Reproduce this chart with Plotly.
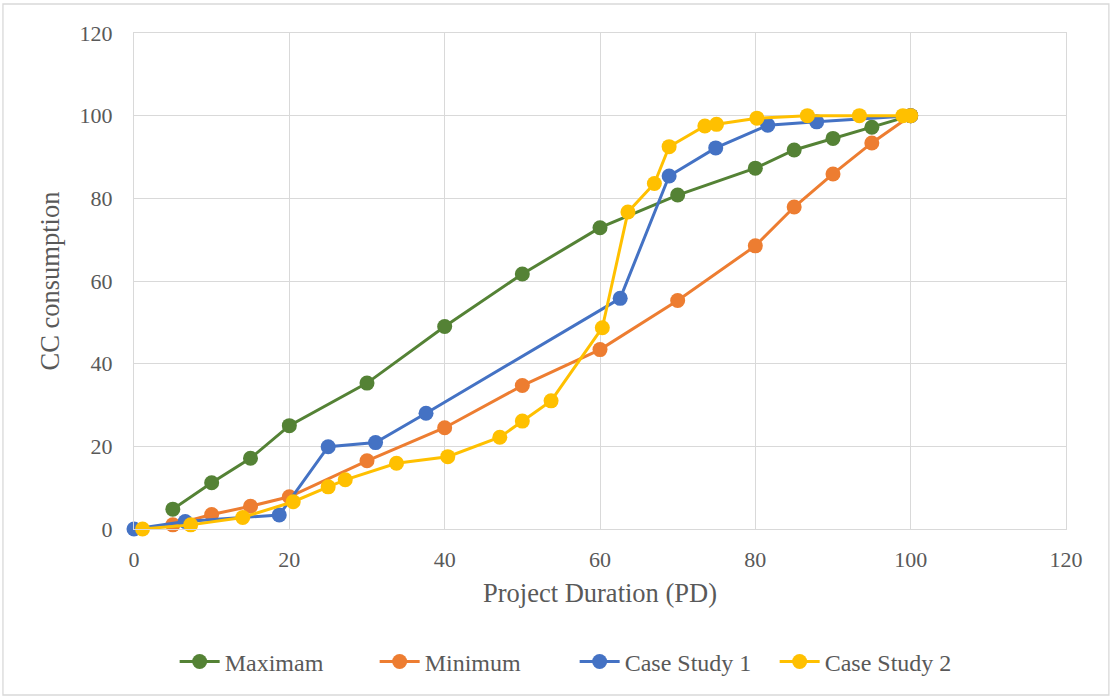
import plotly.graph_objects as go

max_x = [5, 10, 15, 20, 30, 40, 50, 60, 70, 80, 85, 90, 95, 100]
max_y = [4.8, 11.2, 17.1, 25.0, 35.3, 49.0, 61.7, 72.9, 80.8, 87.3, 91.7, 94.5, 97.2, 100]

min_x = [5, 10, 15, 20, 30, 40, 50, 60, 70, 80, 85, 90, 95, 100]
min_y = [1.0, 3.5, 5.5, 7.8, 16.5, 24.5, 34.7, 43.4, 55.3, 68.5, 77.9, 85.9, 93.4, 100]

cs1_x = [0, 6.6, 18.7, 25.0, 31.1, 37.6, 62.6, 68.9, 74.9, 81.6, 87.9, 100]
cs1_y = [0, 1.8, 3.4, 19.9, 20.9, 28.0, 55.8, 85.4, 92.2, 97.7, 98.5, 100]

cs2_x = [1.1, 7.3, 14.0, 20.5, 25.0, 27.2, 33.8, 40.4, 47.1, 50.0, 53.7, 60.3, 63.6, 67.0, 68.9, 73.5, 75.0, 80.2, 86.7, 93.4, 99.0, 100]
cs2_y = [0, 1.0, 2.8, 6.6, 10.2, 11.9, 15.9, 17.5, 22.2, 26.1, 31.0, 48.7, 76.7, 83.6, 92.5, 97.5, 97.9, 99.4, 100, 100, 100, 100]

tick_vals = [0, 20, 40, 60, 80, 100, 120]

series = [
    ("Maximam", max_x, max_y, "#548235"),
    ("Minimum", min_x, min_y, "#ED7D31"),
    ("Case Study 1", cs1_x, cs1_y, "#4472C4"),
    ("Case Study 2", cs2_x, cs2_y, "#FFC000"),
]

fig = go.Figure()
for name, xs, ys, col in series:
    fig.add_trace(go.Scatter(
        x=xs, y=ys, name=name, mode="lines+markers",
        line=dict(color=col, width=3),
        marker=dict(color=col, size=15),
        cliponaxis=False,
    ))

font_family = "Liberation Serif"
grey = "#595959"
fig.update_layout(
    width=1112, height=699,
    margin=dict(l=134, r=46, t=33, b=170),
    paper_bgcolor="white", plot_bgcolor="white",
    font=dict(family=font_family, size=22, color=grey),
    showlegend=True,
    legend=dict(orientation="h", x=0.4728, xanchor="center", y=-0.268, yanchor="middle",
                font=dict(size=24, color=grey), traceorder="normal",
                entrywidth=145, entrywidthmode="pixels", itemwidth=40),
    xaxis=dict(range=[0, 120], tickvals=tick_vals,
               showgrid=True, gridcolor="#D9D9D9", gridwidth=1.3,
               zeroline=False, showline=True, linecolor="#D9D9D9", linewidth=1.3, mirror=True,
               ticks="", ticklen=0, ticklabelstandoff=10,
               title=dict(text="Project Duration (PD)", font=dict(size=26.5, color=grey), standoff=12),
               tickfont=dict(size=22, color=grey)),
    yaxis=dict(range=[0, 120], tickvals=tick_vals,
               showgrid=True, gridcolor="#D9D9D9", gridwidth=1.3,
               zeroline=False, showline=True, linecolor="#D9D9D9", linewidth=1.3, mirror=True,
               ticks="", ticklen=0, ticklabelstandoff=16,
               title=dict(text="CC consumption", font=dict(size=26.5, color=grey), standoff=12),
               tickfont=dict(size=22, color=grey)),
    shapes=[dict(type="rect", xref="paper", yref="paper",
                 x0=-0.1406, x1=1.046, y0=-0.3347, y1=1.0585,
                 line=dict(color="#D9D9D9", width=1.3), fillcolor="rgba(0,0,0,0)", layer="below")],
)

fig.write_html("out.html")
